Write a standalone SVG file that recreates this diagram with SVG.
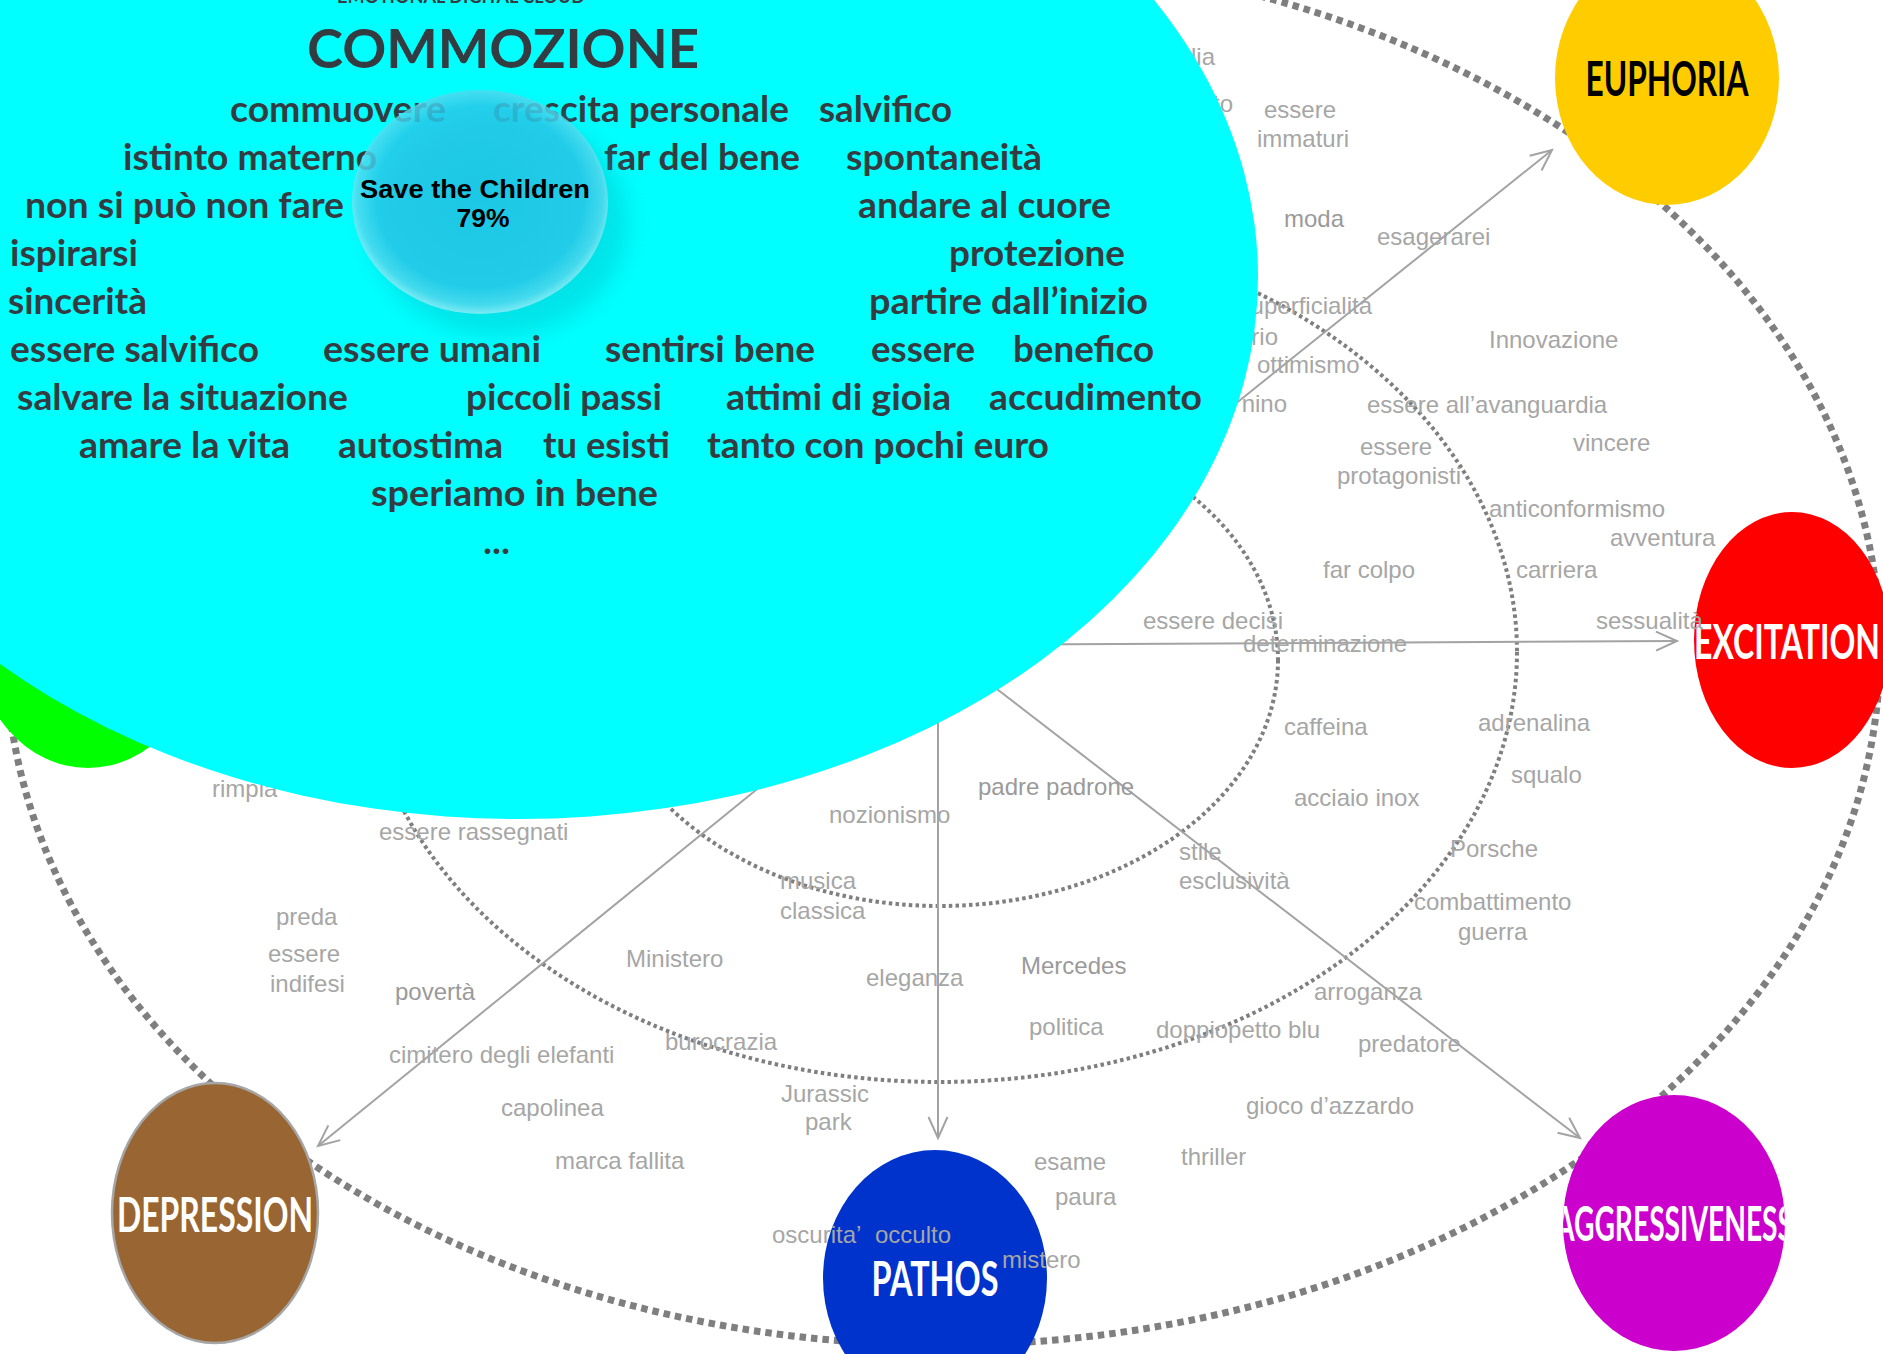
<svg xmlns="http://www.w3.org/2000/svg" width="1883" height="1354" viewBox="0 0 1883 1354">
  <defs>
    <style>
      .ring-outer { fill: none; stroke: #7F7F7F; stroke-width: 7; stroke-dasharray: 6.5 5; }
      .ring-inner { fill: none; stroke: #7F7F7F; stroke-width: 4; stroke-dasharray: 3.5 3.2; }
      .link { fill: none; stroke: #A3A3A3; stroke-width: 2; marker-end: url(#vhead); }
      .w { font-family: "Liberation Sans", Arial, sans-serif; font-size: 24px; fill: #A6A6A6; }
      .wd { fill: #9A9A9A; }
      .c { font-family: Lato, "Open Sans", sans-serif; font-weight: 700; font-size: 37px; fill: #343C41; }
      .lbl { font-family: Lato, "Open Sans", sans-serif; font-weight: 700; font-size: 47px; text-anchor: middle; }
      .end { text-anchor: end; }
    </style>
    <marker id="vhead" markerUnits="userSpaceOnUse" markerWidth="26" markerHeight="24" refX="22" refY="11" orient="auto" viewBox="0 0 26 24">
      <path d="M1,1.5 L22,11 L1,20.5" fill="none" stroke="#A3A3A3" stroke-width="2"/>
    </marker>
    <radialGradient id="bubbleFill" cx="50%" cy="48%" r="52%">
      <stop offset="0" stop-color="#22C1E4"/>
      <stop offset="0.78" stop-color="#2AC7E8"/>
      <stop offset="0.92" stop-color="#52D7EE"/>
      <stop offset="1" stop-color="#96ECF6"/>
    </radialGradient>
    <filter id="soft" x="-30%" y="-30%" width="160%" height="160%">
      <feGaussianBlur stdDeviation="11"/>
    </filter>
    <clipPath id="clipAgg"><ellipse cx="1674" cy="1223" rx="111" ry="128"/></clipPath>
    <clipPath id="clipExc"><ellipse cx="1792" cy="640" rx="98" ry="128"/></clipPath>
  </defs>

  <rect width="1883" height="1354" fill="#FFFFFF"/>

  <!-- concentric rings -->
  <ellipse class="ring-outer" cx="943" cy="650" rx="937" ry="695"/>
  <ellipse class="ring-inner" cx="940" cy="652" rx="577" ry="430"/>
  <ellipse class="ring-inner" cx="940" cy="660" rx="338" ry="246"/>

  <!-- connectors radiating from the centre -->
  <g id="connectors">
    <line class="link" x1="937" y1="643" x2="1552" y2="150"/>
    <line class="link" x1="937" y1="645" x2="1677" y2="641"/>
    <line class="link" x1="937" y1="643" x2="1580" y2="1138"/>
    <line class="link" x1="938" y1="643" x2="938" y2="1138"/>
    <line class="link" x1="937" y1="643" x2="318" y2="1146"/>
  </g>

  <!-- emotion nodes -->
  <g id="node-euphoria">
    <ellipse cx="1667" cy="78" rx="112" ry="127" fill="#FFCC00"/>
    <text class="lbl" x="1667" y="96" fill="#000000" textLength="163" lengthAdjust="spacingAndGlyphs">EUPHORIA</text>
  </g>
  <g id="node-excitation">
    <ellipse cx="1792" cy="640" rx="98" ry="128" fill="#FF0000"/>
    <text class="lbl" x="1787" y="659" fill="#FFFFFF" clip-path="url(#clipExc)" textLength="186" lengthAdjust="spacingAndGlyphs">EXCITATION</text>
  </g>
  <g id="node-aggressiveness">
    <ellipse cx="1674" cy="1223" rx="111" ry="128" fill="#CC00CC"/>
    <text class="lbl" x="1674" y="1241" fill="#FFFFFF" clip-path="url(#clipAgg)" textLength="238" lengthAdjust="spacingAndGlyphs">AGGRESSIVENESS</text>
  </g>
  <g id="node-pathos">
    <ellipse cx="935" cy="1278" rx="112" ry="128" fill="#0033CC"/>
    <text class="lbl" x="935" y="1296" fill="#FFFFFF" textLength="127" lengthAdjust="spacingAndGlyphs">PATHOS</text>
  </g>
  <g id="node-depression">
    <ellipse cx="215" cy="1213" rx="103" ry="130" fill="#996633" stroke="#A6A6A6" stroke-width="2.5"/>
    <text class="lbl" x="215" y="1232" fill="#FFFFFF" textLength="196" lengthAdjust="spacingAndGlyphs">DEPRESSION</text>
  </g>
  <g id="node-green">
    <ellipse cx="88" cy="640" rx="112" ry="128" fill="#00FF00"/>
  </g>

  <!-- word cloud around the rings -->
  <g id="words">
    <text class="w end" x="1215" y="65">lia</text>
    <text class="w end" x="1233" y="112">to</text>
    <text class="w" x="1264" y="118">essere</text>
    <text class="w" x="1257" y="147">immaturi</text>
    <text class="w wd" x="1284" y="227">moda</text>
    <text class="w" x="1377" y="245">esagerarei</text>
    <text class="w end" x="1372" y="314">superficialità</text>
    <text class="w end" x="1278" y="345">rio</text>
    <text class="w" x="1257" y="373">ottimismo</text>
    <text class="w end" x="1287" y="412">nino</text>
    <text class="w" x="1489" y="348">Innovazione</text>
    <text class="w" x="1367" y="413">essere all’avanguardia</text>
    <text class="w" x="1573" y="451">vincere</text>
    <text class="w" x="1360" y="455">essere</text>
    <text class="w" x="1337" y="484">protagonisti</text>
    <text class="w" x="1489" y="517">anticonformismo</text>
    <text class="w" x="1610" y="546">avventura</text>
    <text class="w" x="1323" y="578">far colpo</text>
    <text class="w" x="1516" y="578">carriera</text>
    <text class="w" x="1143" y="629">essere decisi</text>
    <text class="w" x="1243" y="652">determinazione</text>
    <text class="w" x="1596" y="629">sessualità</text>
    <text class="w" x="1284" y="735">caffeina</text>
    <text class="w" x="1478" y="731">adrenalina</text>
    <text class="w" x="1511" y="783">squalo</text>
    <text class="w wd" x="978" y="795">padre padrone</text>
    <text class="w" x="1294" y="806">acciaio inox</text>
    <text class="w" x="1450" y="857">Porsche</text>
    <text class="w" x="1179" y="860">stile</text>
    <text class="w" x="1179" y="889">esclusività</text>
    <text class="w" x="1414" y="910">combattimento</text>
    <text class="w" x="1458" y="940">guerra</text>
    <text class="w wd" x="1021" y="974">Mercedes</text>
    <text class="w" x="1314" y="1000">arroganza</text>
    <text class="w" x="1029" y="1035">politica</text>
    <text class="w" x="1156" y="1038">doppiopetto blu</text>
    <text class="w" x="1358" y="1052">predatore</text>
    <text class="w" x="1246" y="1114">gioco d’azzardo</text>
    <text class="w" x="1181" y="1165">thriller</text>
    <text class="w" x="1034" y="1170">esame</text>
    <text class="w" x="1055" y="1205">paura</text>
    <text class="w" x="1002" y="1268">mistero</text>
    <text class="w" x="772" y="1243">oscurita’</text>
    <text class="w" x="875" y="1243">occulto</text>
    <text class="w" x="212" y="797">rimpia</text>
    <text class="w" x="379" y="840">essere rassegnati</text>
    <text class="w" x="829" y="823">nozionismo</text>
    <text class="w" x="780" y="889">musica</text>
    <text class="w" x="780" y="919">classica</text>
    <text class="w" x="276" y="925">preda</text>
    <text class="w" x="268" y="962">essere</text>
    <text class="w" x="270" y="992">indifesi</text>
    <text class="w" x="626" y="967">Ministero</text>
    <text class="w" x="866" y="986">eleganza</text>
    <text class="w wd" x="395" y="1000">povertà</text>
    <text class="w" x="389" y="1063">cimitero degli elefanti</text>
    <text class="w" x="665" y="1050">burocrazia</text>
    <text class="w" x="781" y="1102">Jurassic</text>
    <text class="w" x="805" y="1130">park</text>
    <text class="w" x="501" y="1116">capolinea</text>
    <text class="w" x="555" y="1169">marca fallita</text>
  </g>

  <!-- COMMOZIONE node: large cyan cloud -->
  <g id="node-commozione">
    <ellipse cx="518" cy="277" rx="740" ry="542" fill="#00FFFF"/>
    <text x="461" y="3" font-family="Lato, 'Open Sans', sans-serif" font-weight="700" font-size="18" fill="#343C41" text-anchor="middle" textLength="248" lengthAdjust="spacingAndGlyphs">EMOTIONAL DIGITAL CLOUD</text>
    <text x="503" y="68" font-family="Lato, 'Open Sans', sans-serif" font-weight="700" font-size="54" fill="#343C41" text-anchor="middle" textLength="392" lengthAdjust="spacingAndGlyphs">COMMOZIONE</text>

    <text class="c" x="230" y="122" textLength="216" lengthAdjust="spacingAndGlyphs">commuovere</text>
    <text class="c" x="493" y="122" textLength="296" lengthAdjust="spacingAndGlyphs">crescita personale</text>
    <text class="c" x="819" y="122" textLength="133" lengthAdjust="spacingAndGlyphs">salvifico</text>

    <text class="c" x="123" y="170" textLength="254" lengthAdjust="spacingAndGlyphs">istinto materno</text>
    <text class="c" x="604" y="170" textLength="196" lengthAdjust="spacingAndGlyphs">far del bene</text>
    <text class="c" x="846" y="170" textLength="196" lengthAdjust="spacingAndGlyphs">spontaneità</text>

    <text class="c" x="25" y="218" textLength="319" lengthAdjust="spacingAndGlyphs">non si può non fare</text>
    <text class="c" x="858" y="218" textLength="253" lengthAdjust="spacingAndGlyphs">andare al cuore</text>

    <text class="c" x="10" y="266" textLength="128" lengthAdjust="spacingAndGlyphs">ispirarsi</text>
    <text class="c" x="949" y="266" textLength="176" lengthAdjust="spacingAndGlyphs">protezione</text>

    <text class="c" x="8" y="314" textLength="139" lengthAdjust="spacingAndGlyphs">sincerità</text>
    <text class="c" x="869" y="314" textLength="279" lengthAdjust="spacingAndGlyphs">partire dall’inizio</text>

    <text class="c" x="10" y="362" textLength="249" lengthAdjust="spacingAndGlyphs">essere salvifico</text>
    <text class="c" x="323" y="362" textLength="218" lengthAdjust="spacingAndGlyphs">essere umani</text>
    <text class="c" x="605" y="362" textLength="210" lengthAdjust="spacingAndGlyphs">sentirsi bene</text>
    <text class="c" x="871" y="362" textLength="104" lengthAdjust="spacingAndGlyphs">essere</text>
    <text class="c" x="1013" y="362" textLength="141" lengthAdjust="spacingAndGlyphs">benefico</text>

    <text class="c" x="17" y="410" textLength="331" lengthAdjust="spacingAndGlyphs">salvare la situazione</text>
    <text class="c" x="466" y="410" textLength="196" lengthAdjust="spacingAndGlyphs">piccoli passi</text>
    <text class="c" x="726" y="410" textLength="225" lengthAdjust="spacingAndGlyphs">attimi di gioia</text>
    <text class="c" x="989" y="410" textLength="213" lengthAdjust="spacingAndGlyphs">accudimento</text>

    <text class="c" x="79" y="458" textLength="211" lengthAdjust="spacingAndGlyphs">amare la vita</text>
    <text class="c" x="338" y="458" textLength="165" lengthAdjust="spacingAndGlyphs">autostima</text>
    <text class="c" x="543" y="458" textLength="127" lengthAdjust="spacingAndGlyphs">tu esisti</text>
    <text class="c" x="707" y="458" textLength="342" lengthAdjust="spacingAndGlyphs">tanto con pochi euro</text>

    <text class="c" x="371" y="506" textLength="287" lengthAdjust="spacingAndGlyphs">speriamo in bene</text>
    <text class="c" x="483" y="554" textLength="27" lengthAdjust="spacingAndGlyphs">...</text>
  </g>

  <!-- Save the Children bubble -->
  <g id="node-save-the-children">
    <ellipse cx="498" cy="222" rx="130" ry="114" fill="#00BCC8" opacity="0.4" filter="url(#soft)"/>
    <ellipse cx="480" cy="202" rx="128" ry="112" fill="url(#bubbleFill)" opacity="0.82"/>
    <text x="475" y="198" font-family="'Liberation Sans', Arial, sans-serif" font-weight="700" font-size="25" fill="#000000" text-anchor="middle" textLength="230" lengthAdjust="spacingAndGlyphs">Save the Children</text>
    <text x="483" y="227" font-family="'Liberation Sans', Arial, sans-serif" font-weight="700" font-size="25" fill="#000000" text-anchor="middle" textLength="53" lengthAdjust="spacingAndGlyphs">79%</text>
  </g>
</svg>
